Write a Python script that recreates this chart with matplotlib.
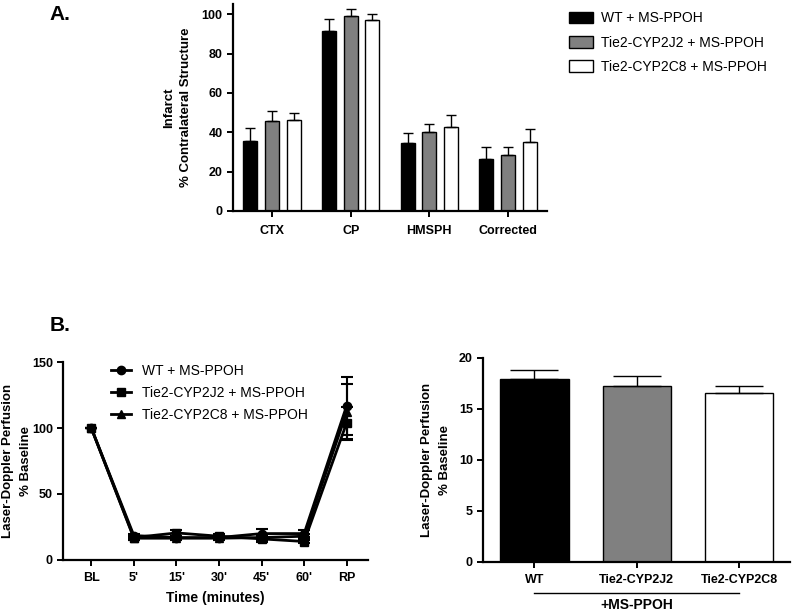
import matplotlib
matplotlib.use('Agg')
import matplotlib.pyplot as plt
from matplotlib.patches import Patch
from matplotlib.lines import Line2D
import numpy as np

plt.rcParams['font.family'] = ['Liberation Sans', 'DejaVu Sans']

# --- Panel A: infarct volume by region ---
regions = ['CTX', 'CP', 'HMSPH', 'Corrected']
groups = ['WT + MS-PPOH', 'Tie2-CYP2J2 + MS-PPOH', 'Tie2-CYP2C8 + MS-PPOH']
infarct_wt = [35.5, 91.5, 34.5, 26.5]
infarct_wt_err = [6.5, 6.0, 5.3, 6.0]
infarct_j2 = [46.0, 99.3, 40.0, 28.5]
infarct_j2_err = [4.9, 3.6, 4.0, 3.9]
infarct_c8 = [46.5, 97.1, 42.6, 35.0]
infarct_c8_err = [3.4, 2.9, 6.1, 6.5]

# --- Panel B left: perfusion time course ---
timepoints = ['BL', "5'", "15'", "30'", "45'", "60'", 'RP']
perf_wt = [100, 18.5, 17.0, 17.0, 20.0, 20.0, 117]
perf_wt_err = [0, 1.5, 1.5, 1.5, 3.5, 2.5, 22]
perf_j2 = [100, 17.0, 20.5, 18.0, 16.0, 14.0, 104]
perf_j2_err = [0, 1.5, 2.0, 1.5, 2.0, 1.5, 12]
perf_c8 = [100, 16.5, 16.5, 16.5, 17.0, 18.0, 112]
perf_c8_err = [0, 1.5, 1.5, 1.5, 2.0, 2.0, 21]

# --- Panel B right: mean ischemic perfusion ---
short_names = ['WT', 'Tie2-CYP2J2', 'Tie2-CYP2C8']
mean_perf = [17.95, 17.25, 16.6]
mean_perf_err = [0.85, 0.95, 0.65]

colors = ['black', '#808080', 'white']
markers = ['o', 's', '^']
bold = {'fontweight': 'bold'}


def style_axes(ax, xpad):
    for s in ['top', 'right']:
        ax.spines[s].set_visible(False)
    for s in ['left', 'bottom']:
        ax.spines[s].set_linewidth(1.6)
    ax.tick_params(direction='out', length=4, width=1.4, labelsize=9)
    ax.tick_params(axis='x', pad=xpad)
    for lbl in ax.get_xticklabels() + ax.get_yticklabels():
        lbl.set_fontweight('bold')


def two_line_ylabel(ax, xpos, text):
    ax.text(xpos, 0.5, text, transform=ax.transAxes, rotation=90, ha='center',
            va='center', fontsize=9.5, multialignment='center', linespacing=1.6, **bold)


fig = plt.figure(figsize=(8, 6.11), dpi=100)

# Panel A
axA = fig.add_axes([0.291, 0.6547, 0.393, 0.338])
x = np.arange(len(regions))
w = 0.18
off = 0.276
for i, (vals, errs) in enumerate([(infarct_wt, infarct_wt_err),
                                  (infarct_j2, infarct_j2_err),
                                  (infarct_c8, infarct_c8_err)]):
    axA.bar(x + (i - 1) * off, vals, w, color=colors[i], edgecolor='black',
            linewidth=1, label=groups[i])
    axA.errorbar(x + (i - 1) * off, vals, yerr=[np.zeros(len(errs)), errs],
                 fmt='none', ecolor='black', elinewidth=1, capsize=3.5, capthick=1)
axA.set_xlim(-0.5, 3.5)
axA.set_ylim(0, 105)
axA.set_yticks([0, 20, 40, 60, 80, 100])
axA.set_xticks(x)
axA.set_xticklabels(regions)
style_axes(axA, 6)
two_line_ylabel(axA, -0.175, 'Infarct\n% Contralateral Structure')
handlesA = [Patch(facecolor=c, edgecolor='black', linewidth=1) for c in colors]
fig.legend(handlesA, groups, loc='upper left', bbox_to_anchor=(0.695, 1.002),
           frameon=False, fontsize=10, handlelength=1.75, handleheight=0.95,
           handletextpad=0.6, labelspacing=0.75)
fig.text(0.062, 0.977, 'A.', fontsize=15, **bold, va='center')

# Panel B left
axB = fig.add_axes([0.079, 0.0835, 0.381, 0.324])
t = np.arange(len(timepoints))
for i, (vals, errs) in enumerate([(perf_wt, perf_wt_err),
                                  (perf_j2, perf_j2_err),
                                  (perf_c8, perf_c8_err)]):
    axB.errorbar(t, vals, yerr=errs, color='black', marker=markers[i], markersize=6,
                 linewidth=2, elinewidth=1.5, capsize=4, capthick=1.5, label=groups[i])
axB.set_xlim(-0.66, 6.5)
axB.set_ylim(0, 150)
axB.set_yticks([0, 50, 100, 150])
axB.set_xticks(t)
axB.set_xticklabels(timepoints)
style_axes(axB, 4.6)
axB.set_xlabel('Time (minutes)', fontsize=10, labelpad=5, **bold)
two_line_ylabel(axB, -0.151, 'Laser-Doppler Perfusion\n% Baseline')
handlesB = [Line2D([0], [0], color='black', marker=m, markersize=6, linewidth=2) for m in markers]
axB.legend(handlesB, groups, loc='upper left', bbox_to_anchor=(0.115, 1.055),
           frameon=False, fontsize=10, handlelength=1.45, handletextpad=0.8,
           labelspacing=0.6)
fig.text(0.062, 0.468, 'B.', fontsize=15, **bold, va='center')

# Panel B right
axC = fig.add_axes([0.604, 0.0802, 0.384, 0.334])
xc = np.arange(len(short_names))
axC.bar(xc, mean_perf, 0.667, color=colors, edgecolor='black', linewidth=1)
axC.errorbar(xc, mean_perf, yerr=[np.zeros(3), mean_perf_err], fmt='none',
             ecolor='black', elinewidth=1, capsize=17, capthick=1)
axC.set_xlim(-0.5, 2.5)
axC.set_ylim(0, 20)
axC.set_yticks([0, 5, 10, 15, 20])
axC.set_xticks(xc)
axC.set_xticklabels(short_names)
style_axes(axC, 4.6)
two_line_ylabel(axC, -0.153, 'Laser-Doppler Perfusion\n% Baseline')
trans = axC.get_xaxis_transform()
axC.plot([0.0, 2.0], [-0.152, -0.152], color='black', linewidth=1,
         transform=trans, clip_on=False)
axC.text(1.0, -0.21, '+MS-PPOH', transform=trans, ha='center', va='center',
         fontsize=10, **bold)

fig.savefig('out.png', dpi=100)
